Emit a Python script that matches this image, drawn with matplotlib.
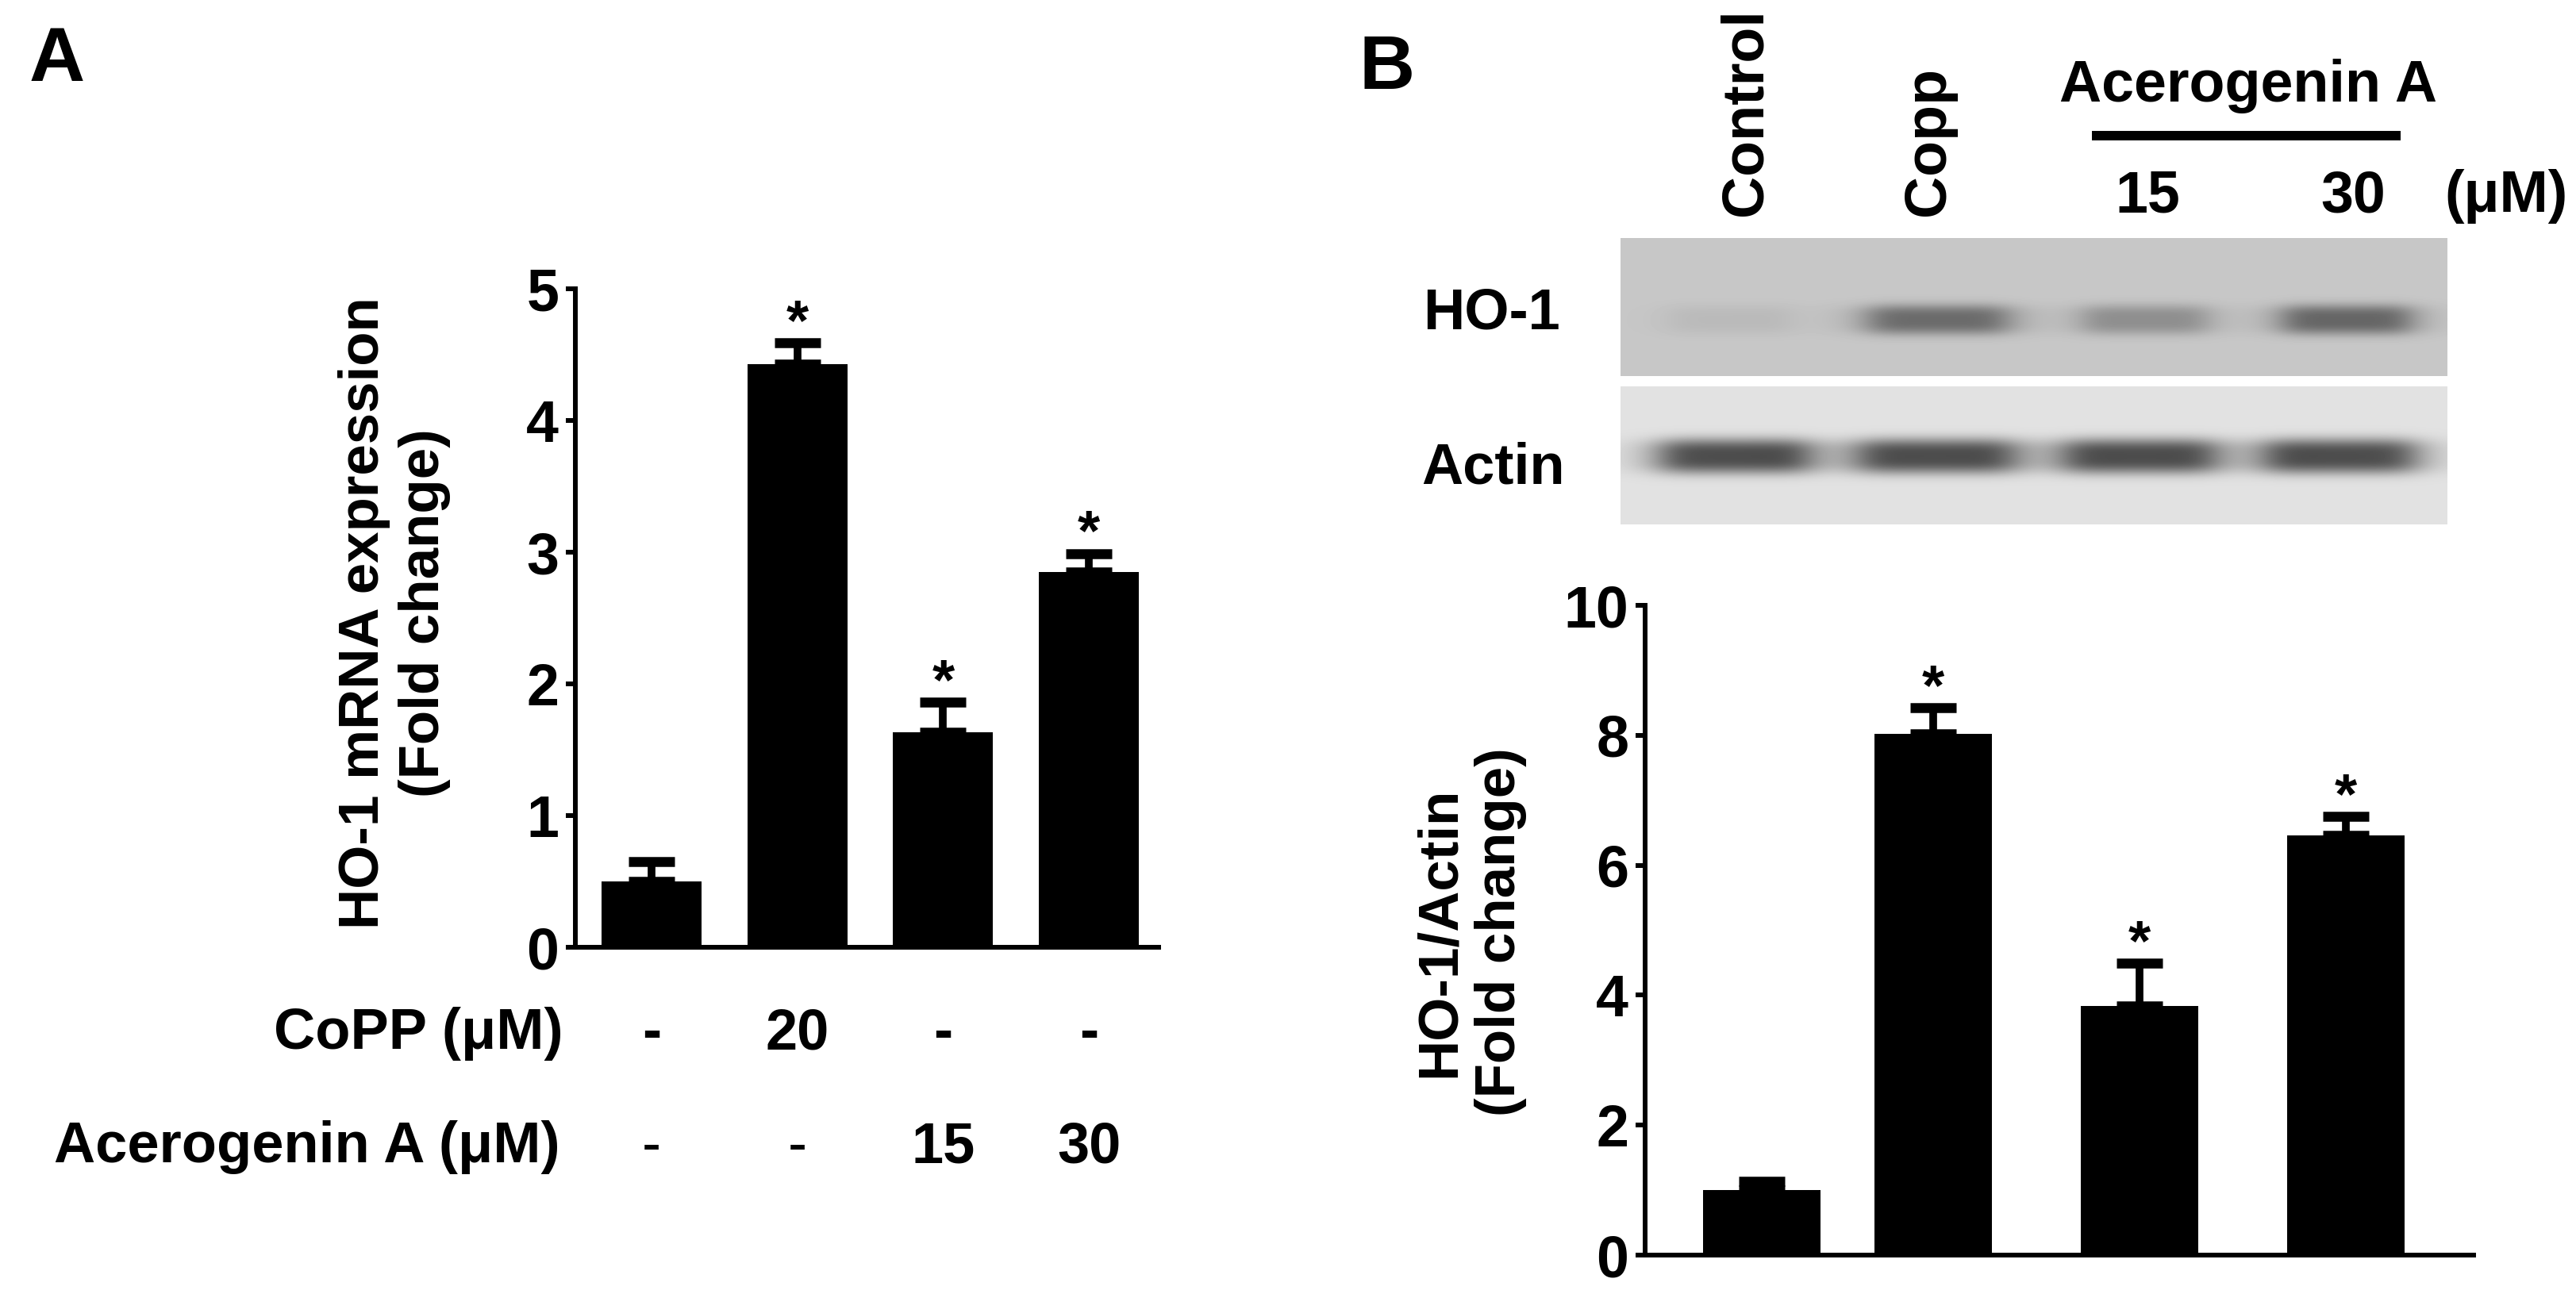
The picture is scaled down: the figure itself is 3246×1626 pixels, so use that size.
import numpy as np
import matplotlib
matplotlib.use("Agg")
import matplotlib.pyplot as plt
from matplotlib import transforms
from matplotlib.lines import Line2D

###############################################################################
# Data
###############################################################################
# Panel A: qPCR
mrna_mean = [0.50, 4.43, 1.63, 2.85]
mrna_err = [0.15, 0.16, 0.23, 0.14]
mrna_sig = [False, True, True, True]
copp_row = ["-", "20", "-", "-"]
acer_row = ["-", "-", "15", "30"]

# Panel B: western blot densitometry
wb_mean = [1.00, 8.02, 3.84, 6.46]
wb_err = [0.14, 0.40, 0.65, 0.29]
wb_sig = [False, True, True, True]
ho1_density = [0.05, 0.36, 0.22, 0.38]
actin_density = [0.58, 0.58, 0.58, 0.58]

###############################################################################
# Layout helpers (pixel -> figure fraction)
###############################################################################
W, H = 3246, 1626


def fx(x):
    return x / W


def fy(y):
    return 1 - y / H


def box(left, top, right, bottom):
    return [left / W, 1 - bottom / H, (right - left) / W, (bottom - top) / H]


plt.rcParams["font.family"] = ["Liberation Sans", "DejaVu Sans"]
plt.rcParams["font.weight"] = "bold"

fig = plt.figure(figsize=(W / 100, H / 100), dpi=100)

LW = 4.3
FS = 53


def style_axes(ax, ymax, step):
    ax.set_ylim(0, ymax)
    ax.set_yticks(np.arange(0, ymax + step / 2, step))
    ax.spines[["top", "right"]].set_visible(False)
    for s in ["left", "bottom"]:
        ax.spines[s].set_linewidth(LW)
    ax.set_xticks([])
    ax.tick_params(axis="y", length=9, width=LW, pad=6, labelsize=FS)


def draw_bars(ax, xs, mean, err, sig, width):
    ax.bar(xs, mean, width=width, color="black", zorder=2)
    ax.errorbar(xs, mean, yerr=[np.zeros(len(err)), err], fmt="none",
                ecolor="black", elinewidth=7, capsize=21, capthick=9, zorder=3)
    for x, m, e, s in zip(xs, mean, err, sig):
        if s:
            ax.annotate("*", (x, m + e), xytext=(0, 3), textcoords="offset points",
                        ha="center", va="baseline", fontsize=52, fontweight="bold",
                        annotation_clip=False)


###############################################################################
# Panel A
###############################################################################
ax_a = fig.add_axes(box(725, 364, 1460, 1194))
xa = np.arange(len(mrna_mean))
draw_bars(ax_a, xa, mrna_mean, mrna_err, mrna_sig, 0.685)
ax_a.set_xlim(-0.522, 3.478)
style_axes(ax_a, 5, 1)

fig.text(fx(497), fy(773), "HO-1 mRNA expression\n(Fold change)", rotation=90,
         ha="center", va="center", multialignment="center", fontsize=51)

trans_a = transforms.blended_transform_factory(ax_a.transData, fig.transFigure)
fig.text(fx(710), fy(1322), "CoPP (\u03bcM)", ha="right", va="baseline", fontsize=52)
fig.text(fx(706), fy(1465), "Acerogenin A (\u03bcM)", ha="right", va="baseline", fontsize=52)
for x, lab in zip(xa, copp_row):
    ax_a.text(x, fy(1322), lab, transform=trans_a, ha="center", va="baseline", fontsize=52)
for x, lab in zip(xa, acer_row):
    ax_a.text(x, fy(1465), lab, transform=trans_a, ha="center", va="baseline", fontsize=52,
              fontweight="normal" if lab == "-" else "bold")

fig.text(fx(37), fy(102), "A", ha="left", va="baseline", fontsize=70)

###############################################################################
# Panel B: blot image
###############################################################################
blot_l, blot_r = 2042, 3084
ax_blot = fig.add_axes(box(blot_l, 300, blot_r, 661))
ax_blot.set_xlim(blot_l, blot_r)
ax_blot.set_ylim(661, 300)
ax_blot.axis("off")


def blot_strip(top, bottom, bg, centers, halfw, depth, yc, hh):
    xs = np.arange(blot_l, blot_r) + 0.5
    ys = np.arange(top, bottom) + 0.5
    img = np.full((len(ys), len(xs)), bg)
    for c, hw, d in zip(centers, halfw, depth):
        px = 1 / (1 + np.abs((xs - c) / hw) ** 6)
        py = np.exp(-np.abs((ys - yc) / hh) ** 3)
        img -= d * np.outer(py, px)
    ax_blot.imshow(img, cmap="gray", vmin=0, vmax=1, interpolation="bilinear",
                   extent=(blot_l, blot_r, bottom, top), aspect="auto")


blot_strip(300, 474, 0.78, [2180, 2442, 2703, 2957], [80, 92, 82, 84],
           ho1_density, 403, 19)
blot_strip(487, 661, 0.885, [2186, 2440, 2696, 2948], [98, 103, 100, 99],
           actin_density, 575, 22)

fig.text(fx(1966), fy(395), "HO-1", ha="right", va="center", fontsize=52)
fig.text(fx(1972), fy(609), "Actin", ha="right", va="baseline", fontsize=52)

fig.text(fx(2200), fy(272), "Control", rotation=90, ha="center", va="bottom", fontsize=53)
fig.text(fx(2430), fy(272), "Copp", rotation=90, ha="center", va="bottom", fontsize=53)
fig.text(fx(2833), fy(128), "Acerogenin A", ha="center", va="baseline", fontsize=53)
fig.add_artist(Line2D([fx(2636), fx(3025)], [fy(171), fy(171)], color="black",
                      lw=8.6, solid_capstyle="butt"))
fig.text(fx(2706), fy(267), "15", ha="center", va="baseline", fontsize=53)
fig.text(fx(2965), fy(267), "30", ha="center", va="baseline", fontsize=53)
fig.text(fx(3080), fy(267), "(\u03bcM)", ha="left", va="baseline", fontsize=53)

fig.text(fx(1712), fy(112), "B", ha="left", va="baseline", fontsize=70)

###############################################################################
# Panel B: densitometry bars
###############################################################################
ax_b = fig.add_axes(box(2073, 763, 3117, 1582))
xb = [0, 0.83, 1.83, 2.83]
draw_bars(ax_b, xb, wb_mean, wb_err, wb_sig, 0.57)
ax_b.set_xlim(-0.565, 3.45)
style_axes(ax_b, 10, 2)

fig.text(fx(1853), fy(1175), "HO-1/Actin\n(Fold change)", rotation=90,
         ha="center", va="center", multialignment="center", fontsize=51)

fig.savefig("out.png", dpi=100, facecolor="white")
